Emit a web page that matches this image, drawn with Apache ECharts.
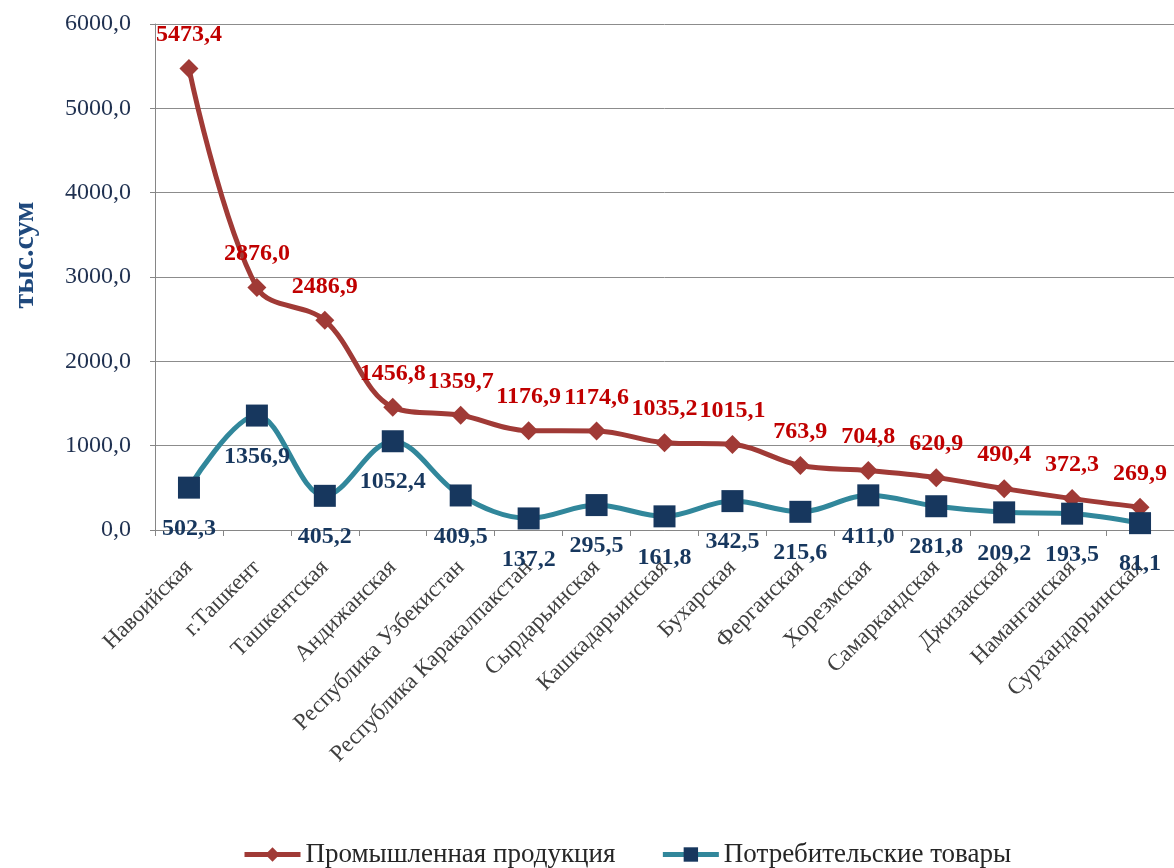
<!DOCTYPE html>
<html><head><meta charset="utf-8">
<script src="https://cdn.jsdelivr.net/npm/echarts@6/dist/echarts.min.js"></script>
<style>html,body{margin:0;padding:0;background:#fff}#c{width:1174px;height:868px}</style>
</head><body><div id="c"></div>
<script>
const categories = ['Навоийская','г.Ташкент','Ташкентская','Андижанская','Республика Узбекистан','Республика Каракалпакстан','Сырдарьинская','Кашкадарьинская','Бухарская','Ферганская','Хорезмская','Самаркандская','Джизакская','Наманганская','Сурхандарьинская'];
const industrial = [5473.4, 2876.0, 2486.9, 1456.8, 1359.7, 1176.9, 1174.6, 1035.2, 1015.1, 763.9, 704.8, 620.9, 490.4, 372.3, 269.9];
const consumer = [502.3, 1356.9, 405.2, 1052.4, 409.5, 137.2, 295.5, 161.8, 342.5, 215.6, 411.0, 281.8, 209.2, 193.5, 81.1];
const seriesNames = ['Промышленная продукция','Потребительские товары'];
const yTicks = {min: 0, max: 6000, interval: 1000};
const yTitle = 'тыс.сум';

const fmt = v => Number(v).toFixed(1).replace('.', ',');
const serif = '"Liberation Serif", "DejaVu Serif", serif';
const chart = echarts.init(document.getElementById('c'));
chart.setOption({
  animation: false,
  textStyle: {fontFamily: serif},
  grid: {left: 155, top: 24, width: 1024, bottom: 338, containLabel: false},
  graphic: [{
    type: 'text', x: 25, y: 255, rotation: Math.PI / 2,
    style: {text: yTitle, fontFamily: serif, fontSize: 30, fontWeight: 'bold', fill: '#1F497D',
      textAlign: 'center', textVerticalAlign: 'middle'}
  }],
  legend: {
    bottom: -5, left: 237, itemWidth: 56, itemHeight: 18, itemGap: 45,
    lineStyle: {width: 5},
    textStyle: {fontFamily: serif, fontSize: 27, color: '#262626'},
    data: seriesNames
  },
  xAxis: {
    type: 'category', data: categories, boundaryGap: true,
    axisLine: {lineStyle: {color: '#868686', width: 1}},
    axisTick: {show: true, length: 6, lineStyle: {color: '#868686'}},
    axisLabel: {interval: 0, rotate: 45, fontFamily: serif, fontSize: 23, color: '#404040', margin: 34}
  },
  yAxis: {
    type: 'value', min: yTicks.min, max: yTicks.max, interval: yTicks.interval,
    axisLine: {show: true, lineStyle: {color: '#868686'}},
    axisTick: {show: true, length: 5, lineStyle: {color: '#868686'}},
    splitLine: {lineStyle: {color: '#8c8c8c', width: 1}},
    axisLabel: {formatter: fmt, fontFamily: serif, fontSize: 24, color: '#1F3050', margin: 24}
  },
  series: [
    {
      name: seriesNames[0], type: 'line', data: industrial, smooth: 0.35,
      symbol: 'diamond', symbolSize: 19,
      lineStyle: {color: '#A03A36', width: 5},
      itemStyle: {color: '#A03A36'},
      label: {show: true, position: 'top', distance: 12, formatter: p => fmt(p.value),
        fontFamily: serif, fontSize: 24, fontWeight: 'bold', color: '#C00000'}
    },
    {
      name: seriesNames[1], type: 'line', data: consumer, smooth: 0.35,
      symbol: 'rect', symbolSize: 22,
      lineStyle: {color: '#31879B', width: 5},
      itemStyle: {color: '#17375E'},
      label: {show: true, position: 'bottom', distance: 18, formatter: p => fmt(p.value),
        fontFamily: serif, fontSize: 24, fontWeight: 'bold', color: '#17375E'}
    }
  ]
});
</script></body></html>
